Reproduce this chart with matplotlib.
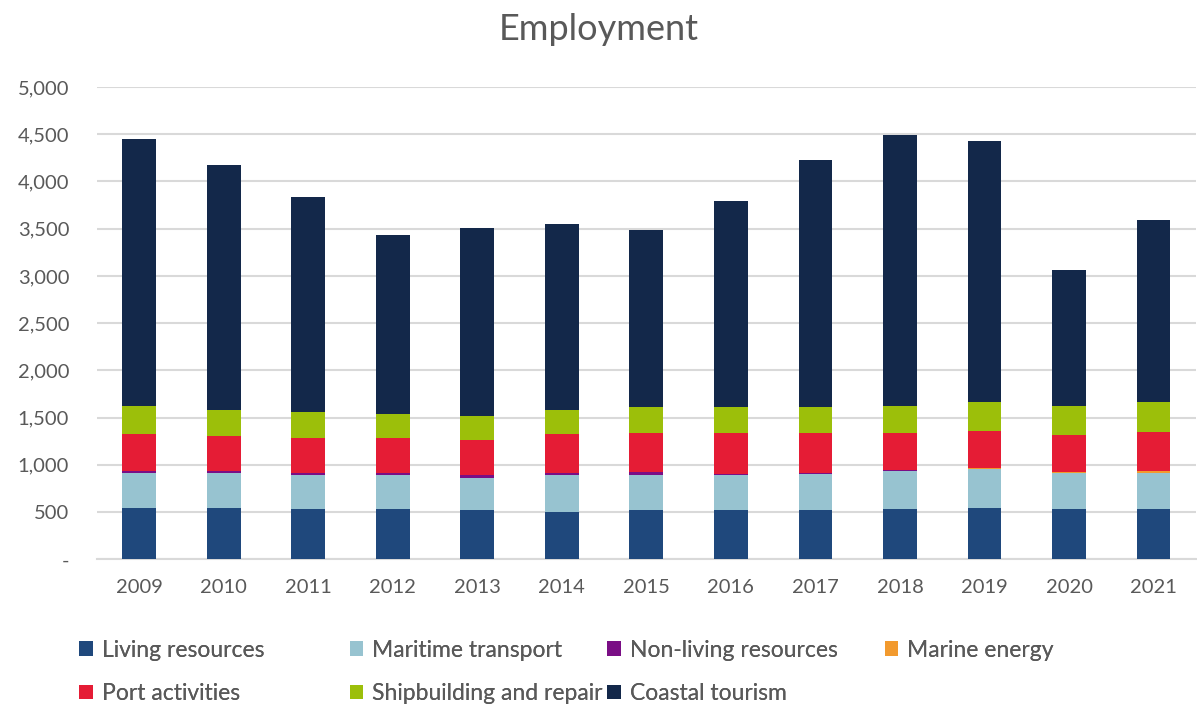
import matplotlib
matplotlib.use("Agg")
import matplotlib.pyplot as plt
from matplotlib.patches import Patch
import numpy as np

years = ["2009", "2010", "2011", "2012", "2013", "2014", "2015",
         "2016", "2017", "2018", "2019", "2020", "2021"]
living = [547, 547, 533, 533, 519, 501, 519, 519, 519, 533, 547, 533, 533]
maritime = [364, 364, 360, 360, 345, 392, 377, 374, 388, 406, 410, 378, 378]
nonliving = [28, 28, 21, 21, 29, 21, 29, 5, 3, 2, 2, 7, 8]
energy = [0, 0, 0, 0, 0, 0, 0, 2, 4, 6, 7, 7, 13]
port = [388, 370, 368, 368, 374, 413, 416, 441, 427, 394, 393, 388, 413]
shipbuilding = [300, 273, 275, 257, 254, 255, 276, 276, 276, 286, 304, 314, 318]
coastal = [2818, 2595, 2278, 1889, 1985, 1967, 1871, 2171, 2605, 2864, 2768, 1438, 1931]

series_names = ["Living resources", "Maritime transport", "Non-living resources",
                "Marine energy", "Port activities", "Shipbuilding and repair",
                "Coastal tourism"]
series_values = [living, maritime, nonliving, energy, port, shipbuilding, coastal]
colors = ["#1F487C", "#97C3D0", "#7A0E85", "#F29A2E", "#E51C35", "#9CBF0A", "#13284A"]

yticks = [0, 500, 1000, 1500, 2000, 2500, 3000, 3500, 4000, 4500, 5000]
ytick_labels = ["-", "500", "1,000", "1,500", "2,000", "2,500", "3,000",
                "3,500", "4,000", "4,500", "5,000"]

plt.rcParams['font.family'] = ['Lato', 'DejaVu Sans']
text_color = "#595959"

fig = plt.figure(figsize=(11.97, 7.09), dpi=100)
ax = fig.add_axes([0.081, 0.2111, 0.918, 0.6662])

x = np.arange(len(years))
bottom = np.zeros(len(years))
handles = []
for name, vals, col in zip(series_names, series_values, colors):
    v = np.array(vals, dtype=float)
    ax.bar(x, v, bottom=bottom, width=0.40, color=col, label=name, zorder=3)
    bottom += v
    handles.append(Patch(facecolor=col, label=name))

ax.set_xlim(-0.5, len(years) - 0.5)
ax.set_ylim(0, 5000)
ax.set_yticks(yticks)
ax.set_yticklabels(ytick_labels)
ax.set_xticks(x)
ax.set_xticklabels(years)
ax.yaxis.grid(True, color="#D9D9D9", linewidth=1.5, zorder=0)
ax.set_axisbelow(True)
for s in ["top", "right", "left"]:
    ax.spines[s].set_visible(False)
ax.spines["bottom"].set_color("#D9D9D9")
ax.spines["bottom"].set_linewidth(1.5)
ax.tick_params(axis="both", length=0, labelsize=14.5, colors=text_color)
ax.tick_params(axis="y", pad=20)
ax.tick_params(axis="x", pad=14)
for lab in ax.get_yticklabels():
    lab.set_horizontalalignment("right")

fig.text(0.5, 0.958, "Employment", ha="center", va="center", fontsize=26, color=text_color)

# legend entries placed like the original (two rows, fixed columns)
col_x = [0.066, 0.292, 0.507, 0.739]
row_y = [0.083, 0.022]
positions = [(col_x[0], row_y[0]), (col_x[1], row_y[0]), (col_x[2], row_y[0]), (col_x[3], row_y[0]),
             (col_x[0], row_y[1]), (col_x[1], row_y[1]), (col_x[2], row_y[1])]
for h, (px, py) in zip(handles, positions):
    leg = fig.legend(handles=[h], loc="center left", bbox_to_anchor=(px, py),
                     frameon=False, fontsize=16.5, handlelength=0.6, handleheight=0.6,
                     handletextpad=0.4, borderpad=0, borderaxespad=0,
                     labelcolor=text_color)
    fig.add_artist(leg)

fig.savefig("out.png", dpi=100)
